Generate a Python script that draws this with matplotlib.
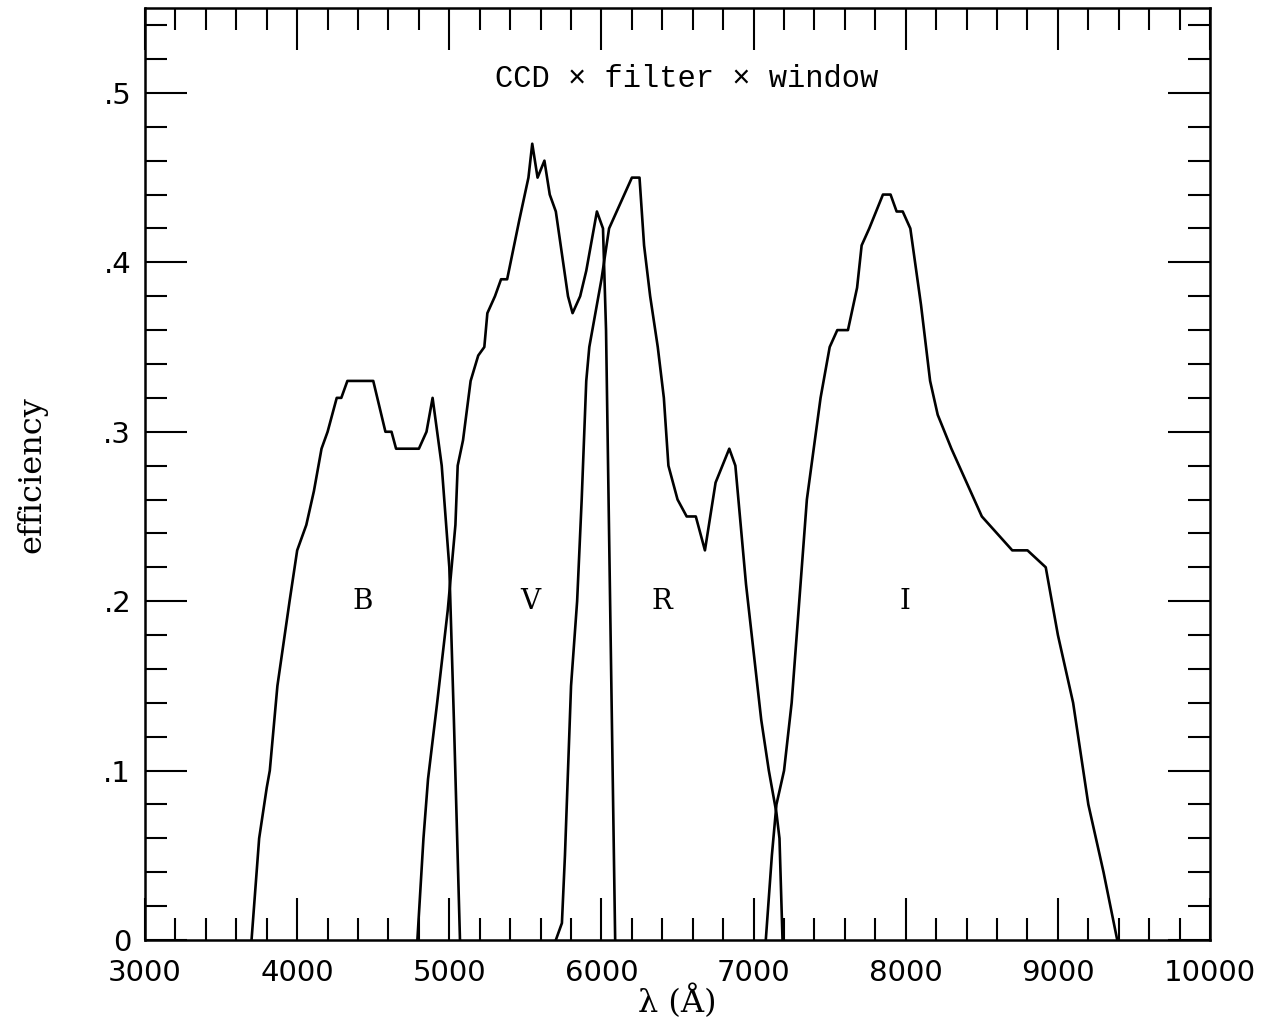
import numpy as np
import matplotlib
matplotlib.use('Agg')
import matplotlib.pyplot as plt
from matplotlib.ticker import MultipleLocator, FuncFormatter

# efficiency curves (wavelength in Angstrom)
b_wave = [3700, 3750, 3800, 3820, 3870, 3950, 4000, 4060, 4110, 4160, 4200, 4260,
          4290, 4330, 4360, 4420, 4500, 4580, 4620, 4650, 4690, 4800, 4850, 4890,
          4950, 5000, 5030, 5070]
b_eff = [0.0, 0.06, 0.09, 0.10, 0.15, 0.20, 0.23, 0.245, 0.265, 0.29, 0.30, 0.32,
         0.32, 0.33, 0.33, 0.33, 0.33, 0.30, 0.30, 0.29, 0.29, 0.29, 0.30, 0.32,
         0.28, 0.22, 0.13, 0.0]

v_wave = [4790, 4830, 4860, 4920, 4990, 5020, 5040, 5055, 5090, 5140, 5190, 5230,
          5250, 5300, 5340, 5380, 5460, 5520, 5545, 5580, 5625, 5660, 5700, 5740,
          5780, 5810, 5860, 5900, 5970, 6010, 6030, 6090]
v_eff = [0.0, 0.06, 0.095, 0.14, 0.195, 0.225, 0.245, 0.28, 0.295, 0.33, 0.345, 0.35,
         0.37, 0.38, 0.39, 0.39, 0.425, 0.45, 0.47, 0.45, 0.46, 0.44, 0.43, 0.405,
         0.38, 0.37, 0.38, 0.395, 0.43, 0.42, 0.36, 0.0]

r_wave = [5700, 5740, 5760, 5800, 5840, 5870, 5900, 5920, 5960, 6000, 6050, 6100,
          6150, 6200, 6250, 6280, 6320, 6370, 6410, 6440, 6500, 6560, 6620, 6680,
          6750, 6840, 6880, 6950, 7000, 7050, 7100, 7150, 7170, 7190]
r_eff = [0.0, 0.01, 0.05, 0.15, 0.20, 0.26, 0.33, 0.35, 0.37, 0.39, 0.42, 0.43,
         0.44, 0.45, 0.45, 0.41, 0.38, 0.35, 0.32, 0.28, 0.26, 0.25, 0.25, 0.23,
         0.27, 0.29, 0.28, 0.21, 0.17, 0.13, 0.10, 0.075, 0.06, 0.0]

i_wave = [7080, 7120, 7150, 7200, 7250, 7300, 7350, 7380, 7440, 7500, 7550, 7620,
          7680, 7710, 7760, 7850, 7900, 7940, 7980, 8030, 8100, 8160, 8210, 8300,
          8400, 8500, 8600, 8700, 8800, 8920, 9000, 9100, 9200, 9300, 9390]
i_eff = [0.0, 0.05, 0.08, 0.10, 0.14, 0.20, 0.26, 0.28, 0.32, 0.35, 0.36, 0.36,
         0.385, 0.41, 0.42, 0.44, 0.44, 0.43, 0.43, 0.42, 0.375, 0.33, 0.31, 0.29,
         0.27, 0.25, 0.24, 0.23, 0.23, 0.22, 0.18, 0.14, 0.08, 0.04, 0.0]

band_names = ['B', 'V', 'R', 'I']
band_label_x = [4430, 5530, 6400, 7995]
band_label_y = 0.2

fig = plt.figure(figsize=(12.7, 10.24), dpi=100)
ax = fig.add_axes([0.1142, 0.082, 0.8386, 0.910])

for w, e in [(b_wave, b_eff), (v_wave, v_eff), (r_wave, r_eff), (i_wave, i_eff)]:
  ax.plot(w, e, color='black', linewidth=1.9)

for name, lx in zip(band_names, band_label_x):
  ax.text(lx, band_label_y, name, ha='center', va='center', fontsize=20, family='DejaVu Serif')

ax.text(6560, 0.508, u'CCD \u00d7 filter \u00d7 window', ha='center', va='center',
        fontsize=22, family='Liberation Mono')

ax.set_xlim(3000, 10000)
ax.set_ylim(0, 0.55)

ax.xaxis.set_major_locator(MultipleLocator(1000))
ax.xaxis.set_minor_locator(MultipleLocator(200))
ax.yaxis.set_major_locator(MultipleLocator(0.1))
ax.yaxis.set_minor_locator(MultipleLocator(0.02))

def yfmt(v, pos):
  if abs(v) < 1e-9:
    return '0'
  return ('%.1f' % v).lstrip('0')
ax.yaxis.set_major_formatter(FuncFormatter(yfmt))

ax.tick_params(which='both', direction='in', top=True, right=True, width=1.5, labelsize=21, pad=10)
ax.tick_params(axis='x', pad=14)
ax.tick_params(which='major', length=30)
ax.tick_params(which='minor', length=16)
for s in ax.spines.values():
  s.set_linewidth(1.8)

ax.set_xlabel(u'\u03bb (\u00c5)', fontsize=23, family='DejaVu Serif', labelpad=-2)
ax.set_ylabel('efficiency', fontsize=23, family='DejaVu Serif', labelpad=40)

plt.savefig('out.png', dpi=100)
